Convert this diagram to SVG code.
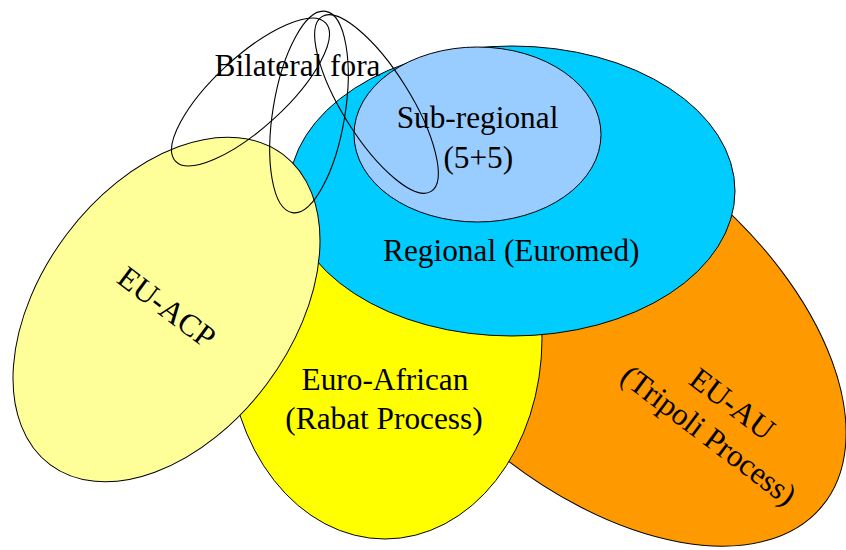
<svg xmlns="http://www.w3.org/2000/svg" width="846" height="550" viewBox="0 0 846 550">
<style>
.shape{stroke:#000;stroke-width:1}
.lbl{font-family:"Liberation Serif","Times New Roman",serif;font-size:31.3px;fill:#000;text-anchor:middle}
.loop{fill:none;stroke:#000;stroke-width:1.1}
</style>
<rect width="846" height="550" fill="#fff"/>
<g id="eu-au">
<ellipse class="shape" cx="598" cy="319" rx="292" ry="167" transform="rotate(40 598 319)" fill="#FF9900"/>
<g transform="translate(719.6,420.75) rotate(37)">
<text class="lbl" x="0" y="-10.7">EU-AU</text>
<text class="lbl" x="0" y="28.5">(Tripoli Process)</text>
</g>
</g>
<g id="euro-african">
<ellipse class="shape" cx="385" cy="338.5" rx="157" ry="200.5" fill="#FFFF00"/>
<text class="lbl" x="385" y="390">Euro-African</text>
<text class="lbl" x="384" y="429">(Rabat Process)</text>
</g>
<g id="regional">
<ellipse class="shape" cx="512" cy="191" rx="223" ry="145" fill="#00CCFF"/>
<text class="lbl" x="511.3" y="261">Regional (Euromed)</text>
</g>
<g id="sub-regional">
<ellipse class="shape" cx="477.5" cy="134.5" rx="123.5" ry="87.5" fill="#99CCFF"/>
<text class="lbl" x="477.5" y="128.3">Sub-regional</text>
<text class="lbl" x="478.3" y="167.5">(5+5)</text>
</g>
<g id="eu-acp">
<ellipse class="shape" cx="166.5" cy="309.5" rx="194" ry="125" transform="rotate(-53.1 166.5 309.5)" fill="#FFFF99"/>
<g transform="translate(166.7,307.2) rotate(37)">
<text class="lbl" x="0" y="10.4">EU-ACP</text>
</g>
</g>
<g id="bilateral-fora">
<text class="lbl" x="297.5" y="76">Bilateral fora</text>
<ellipse class="loop" cx="250.5" cy="92" rx="102" ry="35.5" transform="rotate(-42.6 250.5 92)"/>
<ellipse class="loop" cx="309" cy="112" rx="102" ry="36" transform="rotate(-80.6 309 112)"/>
<ellipse class="loop" cx="376.5" cy="104" rx="103" ry="34" transform="rotate(58 376.5 104)"/>
</g>
</svg>
